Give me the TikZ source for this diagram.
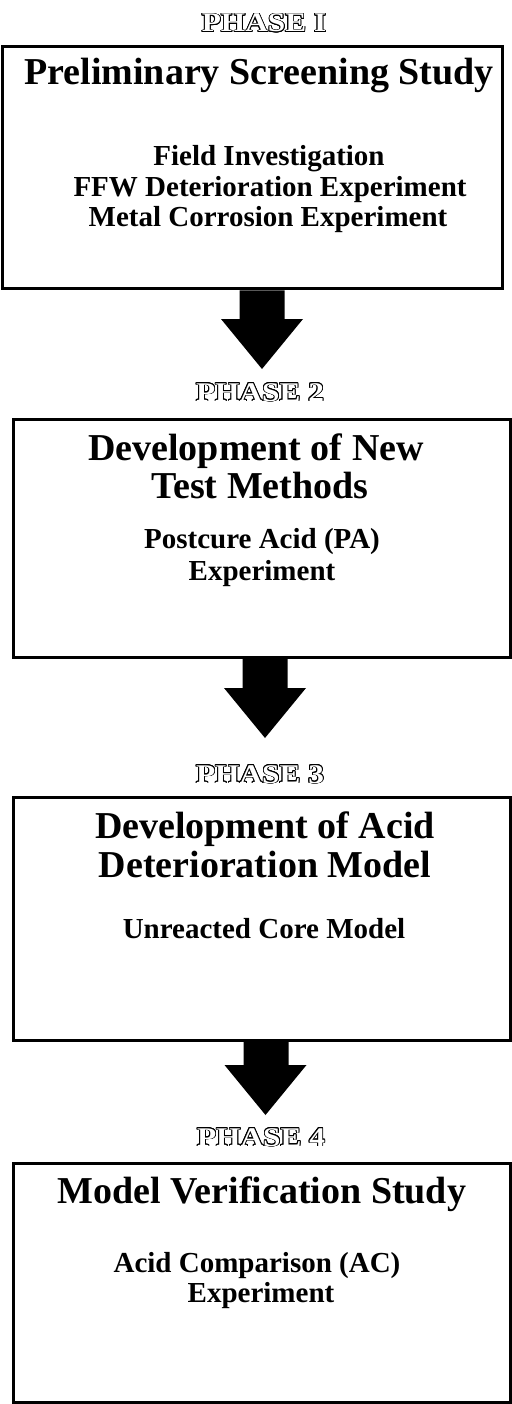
\documentclass[tikz,border=0pt]{standalone}
\usepackage{fontspec}
\setmainfont{Liberation Serif}
\newfontfamily\phasefont[FakeStretch=1.16]{Liberation Serif}
\usepackage{contour}
\contourlength{0.9pt}
\usetikzlibrary{calc}

\tikzset{
  phasebox/.style={draw=black, line width=3pt, fill=white, inner sep=0pt},
  title/.style={anchor=base, inner sep=0pt, font=\fontsize{38}{38}\selectfont\bfseries},
  detail/.style={anchor=base, inner sep=0pt, font=\fontsize{29}{29}\selectfont\bfseries},
  phaselabel/.style={anchor=base, inner sep=0pt, font=\fontsize{27}{27}\selectfont\phasefont\bfseries},
}

% white outline capitals for the phase headings
\newcommand{\hollow}[1]{\contour{black}{\textcolor{white}{#1}}}

% solid block arrow: #1 top centre of the shaft, #2 tip
\newcommand{\blockarrow}[2]{%
  \fill[black] let \p1=(#1), \p2=(#2) in
    (\x1-22.5pt,\y1) -- (\x1+22.5pt,\y1) -- (\x1+22.5pt,\y2+50pt) --
    (\x2+41pt,\y2+50pt) -- (\p2) -- (\x2-41pt,\y2+50pt) --
    (\x1-22.5pt,\y2+50pt) -- cycle;}

\begin{document}
\begin{tikzpicture}[x=1pt, y=-1pt]
\useasboundingbox (0,0) rectangle (511,1404);

% ---- Phase 1 ----
\node[phaselabel] (ph1) at (264,32) {\hollow{PHASE I}};
\node[phasebox, minimum width=500pt, minimum height=242pt] (box1) at (252,168) {};
\node[title]  (t1)  at (259,85)  {Preliminary Screening Study};
\node[detail] (d1a) at (269,166) {Field Investigation};
\node[detail] (d1b) at (270,197) {FFW Deterioration Experiment};
\node[detail] (d1c) at (268,227) {Metal Corrosion Experiment};

% ---- Phase 2 ----
\node[phaselabel] (ph2) at (260,401) {\hollow{PHASE 2}};
\node[phasebox, minimum width=497pt, minimum height=238pt] (box2) at (261.5,538) {};
\node[title]  (t2a) at (256,460) {Development of New};
\node[title]  (t2b) at (260,498) {Test Methods};
\node[detail] (d2a) at (262,548) {Postcure Acid (PA)};
\node[detail] (d2b) at (262,580) {Experiment};

% ---- Phase 3 ----
\node[phaselabel] (ph3) at (260,783) {\hollow{PHASE 3}};
\node[phasebox, minimum width=497pt, minimum height=243pt] (box3) at (261.5,918.5) {};
\node[title]  (t3a) at (265,838) {Development of Acid};
\node[title]  (t3b) at (265,877) {Deterioration Model};
\node[detail] (d3a) at (264,938) {Unreacted Core Model};

% ---- Phase 4 ----
\node[phaselabel] (ph4) at (261,1146) {\hollow{PHASE 4}};
\node[phasebox, minimum width=497pt, minimum height=239pt] (box4) at (261.5,1282.5) {};
\node[title]  (t4a) at (262,1203) {Model Verification Study};
\node[detail] (d4a) at (257,1272) {Acid Comparison (AC)};
\node[detail] (d4b) at (261,1302) {Experiment};

% ---- arrows between phases ----
\coordinate (a1s) at ($(box1.south)+(10,0)$);
\coordinate (a1t) at (262,369);
\coordinate (a2s) at ($(box2.south)+(3.5,0)$);
\coordinate (a2t) at (265,738);
\coordinate (a3s) at ($(box3.south)+(4.5,0)$);
\coordinate (a3t) at (265.5,1115);
\blockarrow{a1s}{a1t}
\blockarrow{a2s}{a2t}
\blockarrow{a3s}{a3t}
\end{tikzpicture}
\end{document}
